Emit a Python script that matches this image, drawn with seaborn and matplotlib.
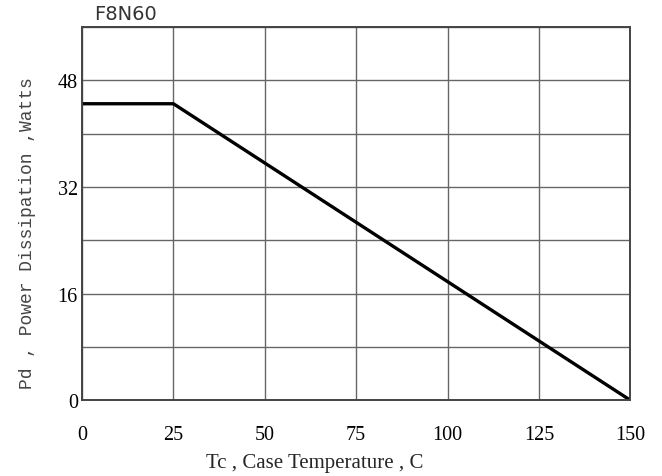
import numpy as np
import pandas as pd
import seaborn as sns
import matplotlib.pyplot as plt

# derating curve
case_temp = [0, 25, 150]
power_w = [44.5, 44.5, 0]
x_ticks = [0, 25, 50, 75, 100, 125, 150]
y_ticks = [0, 16, 32, 48]
y_minor = [8, 24, 40, 56]

df = pd.DataFrame({'Tc': case_temp, 'Pd': power_w})

sns.set_style('white')
fig = plt.figure(figsize=(6.62, 4.77), dpi=100)
ax = fig.add_axes([0.124, 0.159, 0.828, 0.782])

sns.lineplot(data=df, x='Tc', y='Pd', color='black', linewidth=2.4, ax=ax)

ax.set_xlim(0, 150)
ax.set_ylim(0, 56)
ax.set_xticks(x_ticks)
ax.set_yticks(y_ticks)
ax.set_yticks(y_minor, minor=True)
ax.grid(True, which='both', color='#666666', linewidth=1.0)
ax.tick_params(axis='both', which='both', length=0)
ax.tick_params(axis='x', pad=18)
ax.tick_params(axis='y', pad=3)
for lbl in ax.get_xticklabels() + ax.get_yticklabels():
    lbl.set_fontfamily('Liberation Serif')
    lbl.set_fontsize(14.5)
    lbl.set_color('black')
for sp in ax.spines.values():
    sp.set_color('#444444')
    sp.set_linewidth(1.4)

ax.set_xlabel('Tc , Case Temperature , C', family='Liberation Serif', fontsize=15)
ax.xaxis.set_label_coords(0.425, -0.142)
ax.set_ylabel('Pd , Power Dissipation ,Watts', family='Liberation Mono', fontsize=13, color='#444444')
ax.yaxis.set_label_coords(-0.084, 0.45)
ax.text(0.022, 1.012, 'F8N60', transform=ax.transAxes, family='DejaVu Sans', fontsize=14, color='#333333', ha='left', va='bottom')

fig.savefig('out.png', dpi=100)
